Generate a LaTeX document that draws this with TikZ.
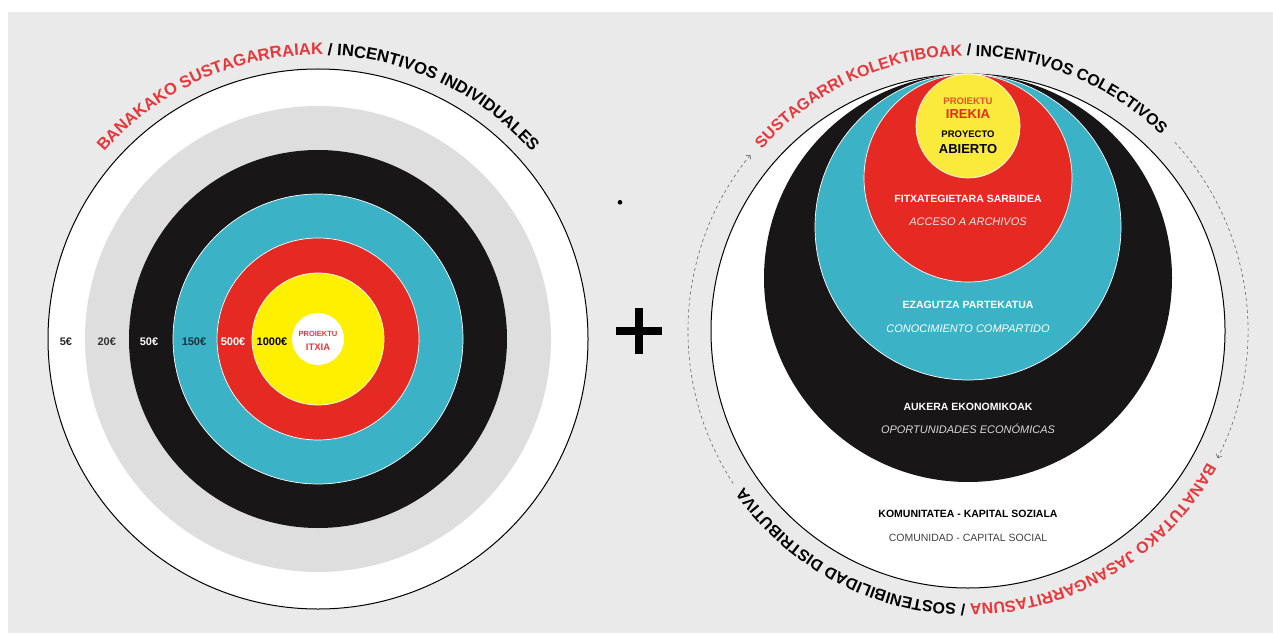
\documentclass[tikz,border=0pt]{standalone}
\usepackage{fontspec}
\setmainfont{Liberation Sans}
\usetikzlibrary{decorations.text,arrows.meta}
\definecolor{paper}{RGB}{234,234,234}
\definecolor{ringgray}{RGB}{222,222,222}
\definecolor{tealc}{RGB}{60,178,198}
\definecolor{redc}{RGB}{229,42,36}
\definecolor{yelc}{RGB}{255,240,0}
\definecolor{yelr}{RGB}{250,234,60}
\definecolor{arcred}{RGB}{232,55,58}
\definecolor{navyc}{RGB}{22,50,62}
\definecolor{orangered}{RGB}{236,80,42}
\definecolor{blackc}{RGB}{24,22,22}
\newcommand\arcfont{\bfseries\fontsize{16}{16}\selectfont}
\newcommand\arcfontL{\bfseries\fontsize{16.6}{16.6}\selectfont}
\begin{document}
\begin{tikzpicture}[x=1pt,y=1pt,
  ring/.style={draw=white,line width=0.7pt},
  lbl/.style={font=\bfseries\fontsize{10.5}{12}\selectfont,inner sep=0pt,text height=7.6pt,text depth=0pt},
  ilbl/.style={font=\itshape\fontsize{11}{12}\selectfont,inner sep=0pt,text height=7.9pt,text depth=0pt},
  rlbl/.style={font=\fontsize{10.5}{12}\selectfont,inner sep=0pt,text height=7.6pt,text depth=0pt},
  eur/.style={font=\bfseries\fontsize{11}{12}\selectfont,inner sep=0pt,text height=8pt,text depth=0pt},
  dasharc/.style={draw=black!60,line width=0.6pt,dash pattern=on 3pt off 3pt,-{Straight Barb[length=3pt,width=6pt]}},
  arctext/.style={decorate,decoration={text along path,text align=center,text={#1}}}
]
% background
\fill[white] (0,0) rectangle (1273,633);
\fill[paper] (8,0) rectangle (1273,621);
\useasboundingbox (0,0) rectangle (1273,633);

% ---------- left target ----------
\coordinate (L) at (318,294);
\filldraw[fill=white,draw=black,line width=1pt] (L) circle[radius=270pt];
\fill[ringgray] (L) circle[radius=233pt];
\fill[blackc] (L) circle[radius=189pt];
\filldraw[ring,fill=tealc] (L) circle[radius=145pt];
\filldraw[ring,fill=redc] (L) circle[radius=101pt];
\filldraw[ring,fill=yelc] (L) circle[radius=66pt];
\fill[white] (L) circle[radius=26pt];

\node[eur,text=black!85] (e5) at (66,291.3) {5€};
\node[eur,text=black!80] (e20) at (106.7,291.3) {20€};
\node[eur,text=white] (e50) at (149,291.3) {50€};
\node[eur,text=navyc] (e150) at (194,291.3) {150€};
\node[eur,text=white] (e500) at (233,291.3) {500€};
\node[eur,text=black] (e1000) at (272,291.3) {1000€};
\node[font=\bfseries\fontsize{7.5}{8}\selectfont,text=arcred,inner sep=0pt] (pitx) at (318,299) {PROIEKTU};
\node[font=\bfseries\fontsize{9.5}{10}\selectfont,text=arcred,inner sep=0pt] (itxia) at (318,285.5) {ITXIA};

\path[arctext={|\arcfontL\color{arcred}|BANAKAKO SUSTAGARRAIAK |\arcfontL\color{black}|/ INCENTIVOS INDIVIDUALES}]
  (L) ++(200:284) arc[start angle=200,end angle=-20,radius=284];

% ---------- middle ----------
\fill[black] (620,430.7) circle[radius=2.3pt];
\fill[black] (616,297.6) rectangle (661.7,306.4);
\fill[black] (634.6,279) rectangle (643.4,325);

% ---------- right diagram ----------
\coordinate (R) at (968,302);
\filldraw[fill=white,draw=black,line width=1pt] (R) circle[radius=257pt];
\fill[blackc] (968,355) circle[radius=204pt];
\filldraw[ring,fill=tealc] (968,406) circle[radius=153pt];
\filldraw[ring,fill=redc] (968,455) circle[radius=104pt];
\filldraw[ring,fill=yelr] (968,507) circle[radius=52pt];

\node[font=\bfseries\fontsize{9.5}{10}\selectfont,text=orangered,inner sep=0pt] (pirek) at (968,531.3) {PROIEKTU};
\node[font=\bfseries\fontsize{13}{14}\selectfont,text=redc,inner sep=0pt] (irekia) at (968,518.7) {IREKIA};
\node[font=\bfseries\fontsize{9.5}{10}\selectfont,text=black,inner sep=0pt] (proy) at (968,499) {PROYECTO};
\node[font=\bfseries\fontsize{13}{14}\selectfont,text=black,inner sep=0pt] (abierto) at (968,483.7) {ABIERTO};

\node[lbl,text=white] (fitx) at (968,434.7) {FITXATEGIETARA SARBIDEA};
\node[ilbl,text=white!90!red] (acceso) at (968,411.3) {ACCESO A ARCHIVOS};
\node[lbl,text=white] (ezag) at (968,328) {EZAGUTZA PARTEKATUA};
\node[ilbl,text=white] (conoc) at (968,304.7) {CONOCIMIENTO COMPARTIDO};
\node[lbl,text=white] (auk) at (968,226.3) {AUKERA EKONOMIKOAK};
\node[ilbl,text=black!15] (oport) at (968,203) {OPORTUNIDADES ECONÓMICAS};
\node[lbl,text=black] (komun) at (968,119) {KOMUNITATEA - KAPITAL SOZIALA};
\node[rlbl,text=black!75] (comun) at (968,95) {COMUNIDAD - CAPITAL SOCIAL};

\path[arctext={|\arcfont\color{arcred}|SUSTAGARRI KOLEKTIBOAK |\arcfont\color{black}|/ INCENTIVOS COLECTIVOS}]
  (R) ++(180:275) arc[start angle=180,end angle=4,radius=275];
\path[arctext={|\arcfont\color{arcred}|BANATUTAKO JASANGARRITASUNA |\arcfont\color{black}|/ SOSTENIBILIDAD DISTRIBUTIVA}]
  (R) ++(-8:273) arc[start angle=-8,end angle=-166,radius=273];

\draw[dasharc] (R) ++(213:280) arc[start angle=213,end angle=141,radius=280];
\draw[dasharc] (R) ++(42.4:280) arc[start angle=42.4,end angle=-27,radius=280];
\end{tikzpicture}
\end{document}
